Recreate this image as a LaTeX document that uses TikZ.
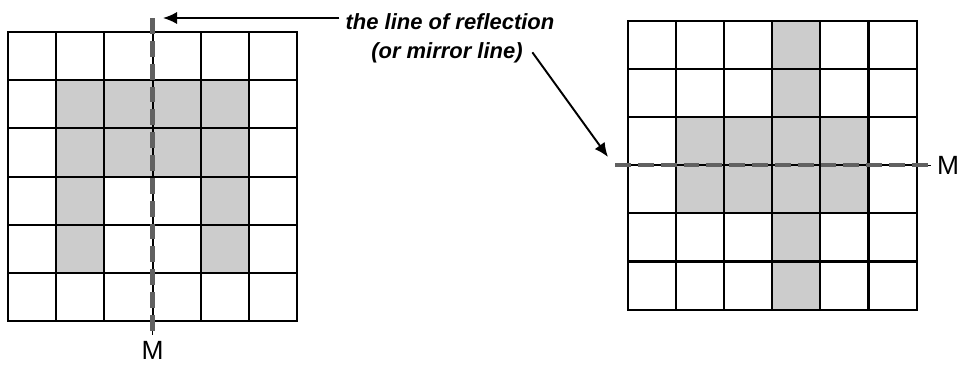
\documentclass[tikz,border=0pt]{standalone}
\usepackage{fontspec}
\setmainfont{Liberation Sans}
\usetikzlibrary{arrows.meta}
\tikzset{
  gridline/.style={line width=1.2pt},
  cellfill/.style={fill=black!20},
  mirrorcore/.style={line width=0.6pt, draw=black},
  mirrorgray/.style={line width=2.4pt, draw=black!62, dash pattern=on 9pt off 4pt},
  pointer/.style={-{Latex[length=8pt,width=7pt]}, line width=1.1pt},
  caption/.style={font=\fontsize{12.5}{15}\selectfont\bfseries\itshape},
  mlabel/.style={font=\fontsize{15}{18}\selectfont}
}
\begin{document}
\begin{tikzpicture}[x=0.02cm, y=-0.02cm]
    \useasboundingbox (0,0) rectangle (963,366);

    \begin{scope}[shift={(8,32)}, x=0.964cm, y=-0.964cm]
        \foreach \c in {1,...,4} \foreach \r in {1,2} \fill[cellfill] (\c,\r) rectangle ++(1,1);
        \foreach \c in {1,4} \foreach \r in {3,4} \fill[cellfill] (\c,\r) rectangle ++(1,1);
        \foreach \i in {1,...,5} {
            \draw[gridline] (\i,0) -- (\i,6);
            \draw[gridline] (0,\i) -- (6,\i);
        }
        \draw[gridline] (0,0) rectangle (6,6);
        \coordinate (mtopL) at (3,-0.29);
        \coordinate (mbotL) at (3,6.29);
        \draw[mirrorcore] (mtopL) -- (mbotL);
        \draw[mirrorgray] (mtopL) -- (mbotL);
        \node[mlabel, anchor=north] (labL) at (mbotL) {M};
    \end{scope}

    \begin{scope}[shift={(628,21)}, x=0.962cm, y=-0.962cm]
        \foreach \r in {0,...,5} \fill[cellfill] (3,\r) rectangle ++(1,1);
        \foreach \c in {1,2,4} \foreach \r in {2,3} \fill[cellfill] (\c,\r) rectangle ++(1,1);
        \foreach \i in {1,...,5} {
            \draw[gridline] (\i,0) -- (\i,6);
            \draw[gridline] (0,\i) -- (6,\i);
        }
        \draw[gridline] (0,0) rectangle (6,6);
        \coordinate (mlftR) at (-0.27,3);
        \coordinate (mrgtR) at (6.3,3);
        \draw[mirrorcore] (mlftR) -- (mrgtR);
        \draw[mirrorgray] (mlftR) -- (mrgtR);
        \node[mlabel, anchor=west] (labR) at (mrgtR) {M};
    \end{scope}

    \node[caption, anchor=base] (ttl) at (450,29) {the line of reflection};
    \node[caption, anchor=base] (sub) at (447,58) {(or mirror line)};
    \coordinate (tipA) at (163,18);
    \coordinate (tipB) at (608,157);
    \draw[pointer] (ttl.west |- tipA) -- (tipA);
    \draw[pointer] ([xshift=2pt]sub.east) -- (tipB);
\end{tikzpicture}
\end{document}
